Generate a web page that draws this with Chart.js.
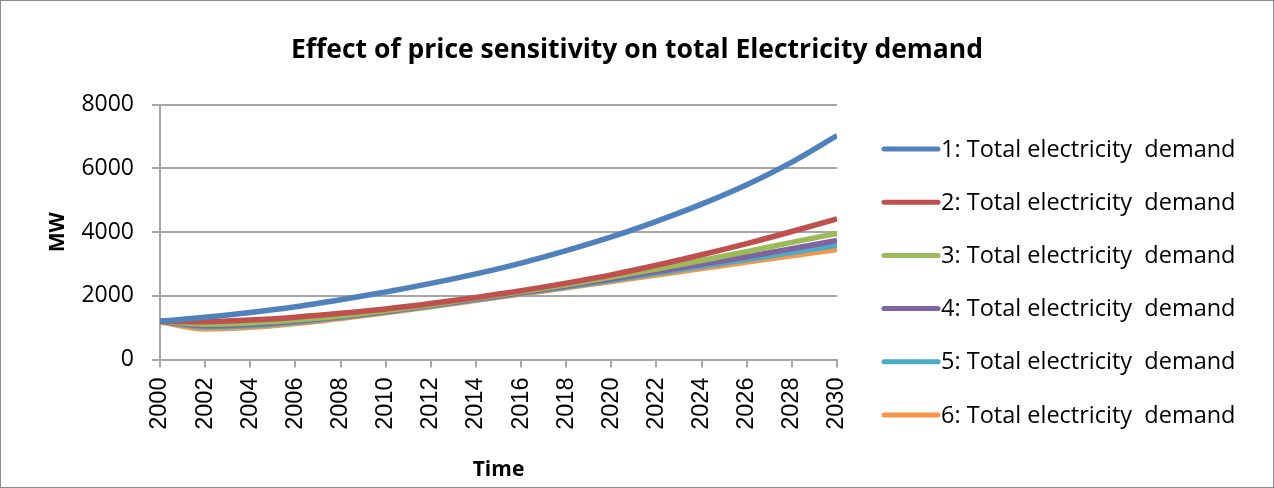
<!DOCTYPE html>
<html lang="en">
<head>
<meta charset="UTF-8"/>
<title>Effect of price sensitivity on total Electricity demand</title>
<script src="https://cdn.jsdelivr.net/npm/chart.js@4.4.1/dist/chart.umd.min.js"></script>
<style>
    html, body { margin: 0; padding: 0; background: #fff; }
    #wrap { width: 1274px; height: 488px; box-sizing: border-box; border: 1px solid #8c8c8c; }
    #wrap canvas { display: block; }
</style>
</head>
<body>
<div id="wrap">
    <canvas id="myChart" width="1272" height="486"></canvas>
</div>
<script>
    // years on the time axis (every 2 years)
    const years = [2000, 2002, 2004, 2006, 2008, 2010, 2012, 2014, 2016, 2018, 2020, 2022, 2024, 2026, 2028, 2030];

    const seriesNames = [
        '1: Total electricity  demand',
        '2: Total electricity  demand',
        '3: Total electricity  demand',
        '4: Total electricity  demand',
        '5: Total electricity  demand',
        '6: Total electricity  demand'
    ];

    // MW
    const demand1 = [1200, 1330, 1480, 1660, 1880, 2120, 2390, 2690, 3030, 3420, 3850, 4340, 4880, 5490, 6200, 7030];
    const demand2 = [1200, 1190, 1240, 1330, 1450, 1590, 1760, 1950, 2160, 2400, 2660, 2960, 3290, 3640, 4020, 4420];
    const demand3 = [1200, 1110, 1150, 1240, 1370, 1530, 1720, 1920, 2130, 2350, 2590, 2840, 3110, 3390, 3680, 3960];
    const demand4 = [1200, 1060, 1100, 1200, 1340, 1510, 1700, 1900, 2100, 2310, 2530, 2760, 2990, 3230, 3480, 3740];
    const demand5 = [1200, 1020, 1060, 1170, 1320, 1490, 1680, 1880, 2080, 2280, 2490, 2710, 2920, 3140, 3360, 3590];
    const demand6 = [1180, 960, 1010, 1130, 1290, 1470, 1660, 1860, 2060, 2250, 2450, 2650, 2860, 3060, 3260, 3460];

    const colors = ['#4F81BD', '#C0504D', '#9BBB59', '#8064A2', '#4BACC6', '#F79646'];
    const allSeries = [demand1, demand2, demand3, demand4, demand5, demand6];

    const gridGray = '#a6a6a6';
    const calibri = "'Open Sans', Lato, sans-serif";

    const datasets = allSeries.map((vals, i) => ({
        label: seriesNames[i],
        data: vals.map((v, j) => ({x: years[j], y: v})),
        borderColor: colors[i],
        backgroundColor: colors[i],
        borderWidth: 5.5,
        pointRadius: 0,
        cubicInterpolationMode: 'monotone',
        fill: false
    }));

    // the built-in legend gets squeezed to a quarter of the width, so draw the
    // Excel-style legend ourselves in the space kept free by the 'room' axis
    const sideLegend = {
        id: 'sideLegend',
        afterDraw(chart) {
            const c = chart.ctx;
            const x0 = chart.chartArea.right + 47;
            const y0 = 148;
            c.save();
            c.font = "23.5px 'Open Sans', Lato, sans-serif";
            c.textBaseline = 'middle';
            c.textAlign = 'left';
            c.lineCap = 'round';
            chart.data.datasets.forEach((ds, i) => {
                const y = y0 + i * 53.2;
                c.strokeStyle = ds.borderColor;
                c.lineWidth = 5;
                c.beginPath();
                c.moveTo(x0, y);
                c.lineTo(x0 + 54, y);
                c.stroke();
                c.fillStyle = '#000';
                c.fillText(ds.label, x0 + 57, y + 1);
            });
            c.restore();
        }
    };

    const ctx = document.getElementById('myChart').getContext('2d');
    new Chart(ctx, {
        type: 'line',
        data: {datasets: datasets},
        plugins: [sideLegend],
        options: {
            responsive: false,
            animation: false,
            layout: {
                padding: {left: 47, right: 47, top: 34, bottom: 4}
            },
            plugins: {
                title: {
                    display: true,
                    text: 'Effect of price sensitivity on total Electricity demand',
                    color: '#000',
                    font: {family: calibri, size: 26.5, weight: 'bold'},
                    padding: {top: 0, bottom: 38}
                },
                legend: {display: false},
                tooltip: {enabled: false}
            },
            scales: {
                x: {
                    type: 'linear',
                    min: 2000,
                    max: 2030,
                    ticks: {
                        stepSize: 2,
                        minRotation: 90,
                        maxRotation: 90,
                        padding: 10,
                        color: '#000',
                        font: {family: "'Liberation Sans', Arial, sans-serif", size: 23.5},
                        callback: (v) => String(v)
                    },
                    grid: {
                        drawOnChartArea: false,
                        drawTicks: true,
                        tickLength: 8,
                        color: gridGray,
                        lineWidth: 2
                    },
                    border: {color: gridGray, width: 2},
                    title: {
                        display: true,
                        text: 'Time',
                        color: '#000',
                        font: {family: calibri, size: 21, weight: 'bold'},
                        padding: {top: 18, bottom: 0}
                    }
                },
                y: {
                    min: 0,
                    max: 8000,
                    ticks: {
                        stepSize: 2000,
                        padding: 18,
                        color: '#000',
                        font: {family: calibri, size: 23},
                        callback: (v) => String(v)
                    },
                    grid: {
                        color: gridGray,
                        lineWidth: 2,
                        tickLength: 8
                    },
                    border: {color: gridGray, width: 2},
                    title: {
                        display: true,
                        text: 'MW',
                        color: '#000',
                        font: {family: calibri, size: 21, weight: 'bold', lineHeight: 1},
                        padding: {top: 0, bottom: 0}
                    },
                    afterFit: (scale) => { scale.width = 112; }
                },
                // empty axis on the right only keeps room for the legend
                room: {
                    type: 'linear',
                    position: 'right',
                    display: true,
                    ticks: {display: false},
                    grid: {display: false, drawTicks: false},
                    border: {display: false},
                    afterFit: (scale) => { scale.width = 1272 - 47 - 836; }
                }
            }
        }
    });
</script>
</body>
</html>
